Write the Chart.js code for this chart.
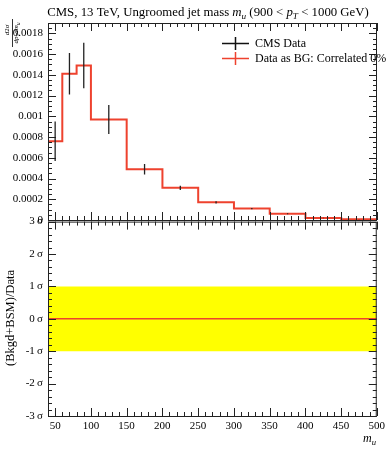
<!DOCTYPE html>
<html>
<head>
<meta charset="utf-8">
<script src="https://cdn.jsdelivr.net/npm/chart.js@4"></script>
<style>
html,body{margin:0;padding:0;background:#fff;}
#wrap{position:relative;width:389px;height:450px;overflow:hidden;}
canvas{position:absolute;left:0;}
#top{top:0;z-index:2;}
#bot{top:210px;z-index:1;}
</style>
</head>
<body>
<div id="wrap">
  <canvas id="bot" width="389" height="240"></canvas>
  <canvas id="top" width="389" height="232"></canvas>
</div>
<script>
// bins of m_u
const binEdges = [40, 60, 80, 100, 150, 200, 250, 300, 350, 400, 450, 500];
const binCentres = [50, 70, 90, 125, 175, 225, 275, 325, 375, 425, 475];
// CMS data and its errors
const dataVals = [0.00076, 0.00141, 0.00149, 0.00097, 0.00049, 0.00031, 0.00017, 0.00011, 0.00006, 0.00002, 0.000007];
const dataErrs = [0.00019, 0.0002, 0.00022, 0.00014, 0.00005, 0.00002, 0.00001, 0.000006, 0.000004, 0.000002, 0.000001];
// Data as BG: Correlated 0%
const bgVals = [0.00076, 0.00141, 0.00149, 0.00097, 0.00049, 0.00031, 0.00017, 0.00011, 0.00006, 0.00002, 0.000007];
// significance in lower panel
const sigVals = [0, 0, 0, 0, 0, 0, 0, 0, 0, 0, 0];
const bandHi = 1;
const bandLo = -1;
// tick labels
const xTicks = [50, 100, 150, 200, 250, 300, 350, 400, 450, 500];
const yTicks = [0, 0.0002, 0.0004, 0.0006, 0.0008, 0.001, 0.0012, 0.0014, 0.0016, 0.0018];
const sigTicks = [-3, -2, -1, 0, 1, 2, 3];

const RED = 'rgb(238,66,46)';
const SERIF = "'Liberation Serif', 'DejaVu Serif', serif";
Chart.defaults.font.family = SERIF;
Chart.defaults.font.size = 11;
Chart.defaults.color = '#000';

function stepPoints(vals) {
    return binEdges.map((e, i) => ({x: e, y: vals[Math.min(i, vals.length - 1)]}));
}

function errPoints() {
    const pts = [];
    binCentres.forEach((c, i) => {
        pts.push({x: c, y: dataVals[i] - dataErrs[i]});
        pts.push({x: c, y: dataVals[i] + dataErrs[i]});
        pts.push({x: c, y: null});
    });
    return pts;
}

// frame and inward ticks like the rivet plots
function drawFrame(chart, yMinor, yMajorEvery, yFrom, yTo) {
    const {ctx, chartArea: a, scales} = chart;
    ctx.save();
    ctx.strokeStyle = '#222';
    ctx.lineWidth = 1;
    ctx.strokeRect(a.left + 0.5, a.top + 0.5, a.right - a.left - 1, a.bottom - a.top);
    ctx.beginPath();
    for (let v = 40; v <= 500; v += 10) {
        const px = Math.round(scales.x.getPixelForValue(v)) + 0.5;
        const len = v % 50 === 0 ? 8 : 4;
        ctx.moveTo(px, a.top); ctx.lineTo(px, a.top + len);
        ctx.moveTo(px, a.bottom); ctx.lineTo(px, a.bottom - len);
    }
    for (let i = yFrom; i <= yTo; i++) {
        const py = Math.round(scales.y.getPixelForValue(i * yMinor)) + 0.5;
        const len = i % yMajorEvery === 0 ? 8 : 4;
        ctx.moveTo(a.left, py); ctx.lineTo(a.left + len, py);
        ctx.moveTo(a.right, py); ctx.lineTo(a.right - len, py);
    }
    ctx.stroke();
    ctx.restore();
}

// draw text pieces: [text, italic, sub]
function richText(ctx, parts, x, y, size, align) {
    const fontOf = p => (p[1] ? 'italic ' : '') + (p[2] ? size * 0.72 : size) + 'px ' + SERIF;
    let w = 0;
    parts.forEach(p => { ctx.font = fontOf(p); w += ctx.measureText(p[0]).width; });
    let cx = align === 'center' ? x - w / 2 : (align === 'right' ? x - w : x);
    ctx.textAlign = 'left';
    parts.forEach(p => {
        ctx.font = fontOf(p);
        ctx.fillText(p[0], cx, p[2] ? y + size * 0.25 : y);
        cx += ctx.measureText(p[0]).width;
    });
}

const topDecor = {
    id: 'topDecor',
    afterDraw(chart) {
        const ctx = chart.ctx;
        drawFrame(chart, 0.00005, 4, 0, 38);
        ctx.save();
        ctx.fillStyle = '#000';
        ctx.textBaseline = 'alphabetic';
        // title
        richText(ctx, [
            ['CMS, 13 TeV, Ungroomed jet mass ', false, false],
            ['m', true, false], ['u', true, true],
            [' (900 < ', false, false], ['p', true, false], ['T', true, true],
            [' < 1000 GeV)', false, false]
        ], 208, 16, 12.8, 'center');
        // y axis label as a rotated fraction
        ctx.save();
        ctx.rotate(-Math.PI / 2);
        richText(ctx, [['d', true, false], ['2', false, false], ['σ', true, false]], -30, 9, 7, 'center');
        richText(ctx, [['dp', true, false], ['T', true, true], ['d', true, false], ['m', true, false], ['u', true, true]], -33, 18, 7, 'center');
        ctx.restore();
        ctx.strokeStyle = '#000';
        ctx.lineWidth = 0.8;
        ctx.beginPath();
        ctx.moveTo(12.5, 19); ctx.lineTo(12.5, 47);
        ctx.stroke();
        // legend
        const items = [['#111', 'CMS Data', 43], [RED, 'Data as BG: Correlated 0%', 58]];
        items.forEach(([col, label, y]) => {
            ctx.strokeStyle = col;
            ctx.lineWidth = 1.5;
            ctx.beginPath();
            ctx.moveTo(222, y + 0.5); ctx.lineTo(249, y + 0.5);
            ctx.moveTo(235.5, y - 6); ctx.lineTo(235.5, y + 7);
            ctx.stroke();
            ctx.font = '12px ' + SERIF;
            ctx.fillStyle = '#000';
            ctx.fillText(label, 255, y + 4);
        });
        ctx.restore();
    }
};

const botDecor = {
    id: 'botDecor',
    afterDraw(chart) {
        const ctx = chart.ctx;
        drawFrame(chart, 0.2, 5, -15, 15);
        ctx.save();
        ctx.fillStyle = '#000';
        ctx.textBaseline = 'alphabetic';
        richText(ctx, [['m', true, false], ['u', true, true]], 376, 232, 12, 'right');
        ctx.translate(14, 108);
        ctx.rotate(-Math.PI / 2);
        ctx.font = '12.5px ' + SERIF;
        ctx.textAlign = 'center';
        ctx.fillText('(Bkgd+BSM)/Data', 0, 0);
        ctx.restore();
    }
};

const commonX = {
    type: 'linear', min: 40, max: 500,
    grid: {display: false, drawTicks: false},
    border: {display: false}
};

new Chart(document.getElementById('top'), {
    type: 'line',
    data: {
        datasets: [
            {
                label: 'CMS Data',
                data: errPoints(),
                borderColor: '#222', borderWidth: 1.3,
                pointRadius: 0, spanGaps: false
            },
            {
                label: 'Data as BG: Correlated 0%',
                data: stepPoints(bgVals),
                stepped: true,
                borderColor: RED, borderWidth: 2,
                pointRadius: 0
            }
        ]
    },
    options: {
        responsive: false, animation: false, devicePixelRatio: 1,
        layout: {padding: {top: 23, right: 12, bottom: 12, left: 0}},
        plugins: {legend: {display: false}, tooltip: {enabled: false}},
        scales: {
            x: Object.assign({}, commonX, {display: false}),
            y: {
                min: 0, max: 0.0019,
                grid: {display: false, drawTicks: false},
                border: {display: false},
                afterFit: s => { s.width = 48; },
                afterBuildTicks: s => { s.ticks = yTicks.map(v => ({value: v})); },
                ticks: {padding: 5, callback: v => String(v)}
            }
        }
    },
    plugins: [topDecor]
});

new Chart(document.getElementById('bot'), {
    type: 'line',
    data: {
        datasets: [
            {
                label: 'sig',
                data: stepPoints(sigVals),
                stepped: true,
                borderColor: RED, borderWidth: 1.5,
                pointRadius: 0
            },
            {
                label: 'band',
                data: [{x: 40, y: bandHi}, {x: 500, y: bandHi}],
                fill: {value: bandLo},
                backgroundColor: '#ffff00',
                borderWidth: 0, pointRadius: 0
            }
        ]
    },
    options: {
        responsive: false, animation: false, devicePixelRatio: 1,
        layout: {padding: {top: 10, right: 12, bottom: 0, left: 0}},
        plugins: {legend: {display: false}, tooltip: {enabled: false}, filler: {propagate: false}},
        scales: {
            x: Object.assign({}, commonX, {
                afterFit: s => { s.height = 34; },
                afterBuildTicks: s => { s.ticks = xTicks.map(v => ({value: v})); },
                ticks: {padding: 4, maxRotation: 0, autoSkip: false}
            }),
            y: {
                min: -3, max: 3,
                grid: {display: false, drawTicks: false},
                border: {display: false},
                afterFit: s => { s.width = 48; },
                afterBuildTicks: s => { s.ticks = sigTicks.map(v => ({value: v})); },
                ticks: {padding: 5, callback: v => v + '\u2009σ'}
            }
        }
    },
    plugins: [botDecor]
});
</script>
</body>
</html>
